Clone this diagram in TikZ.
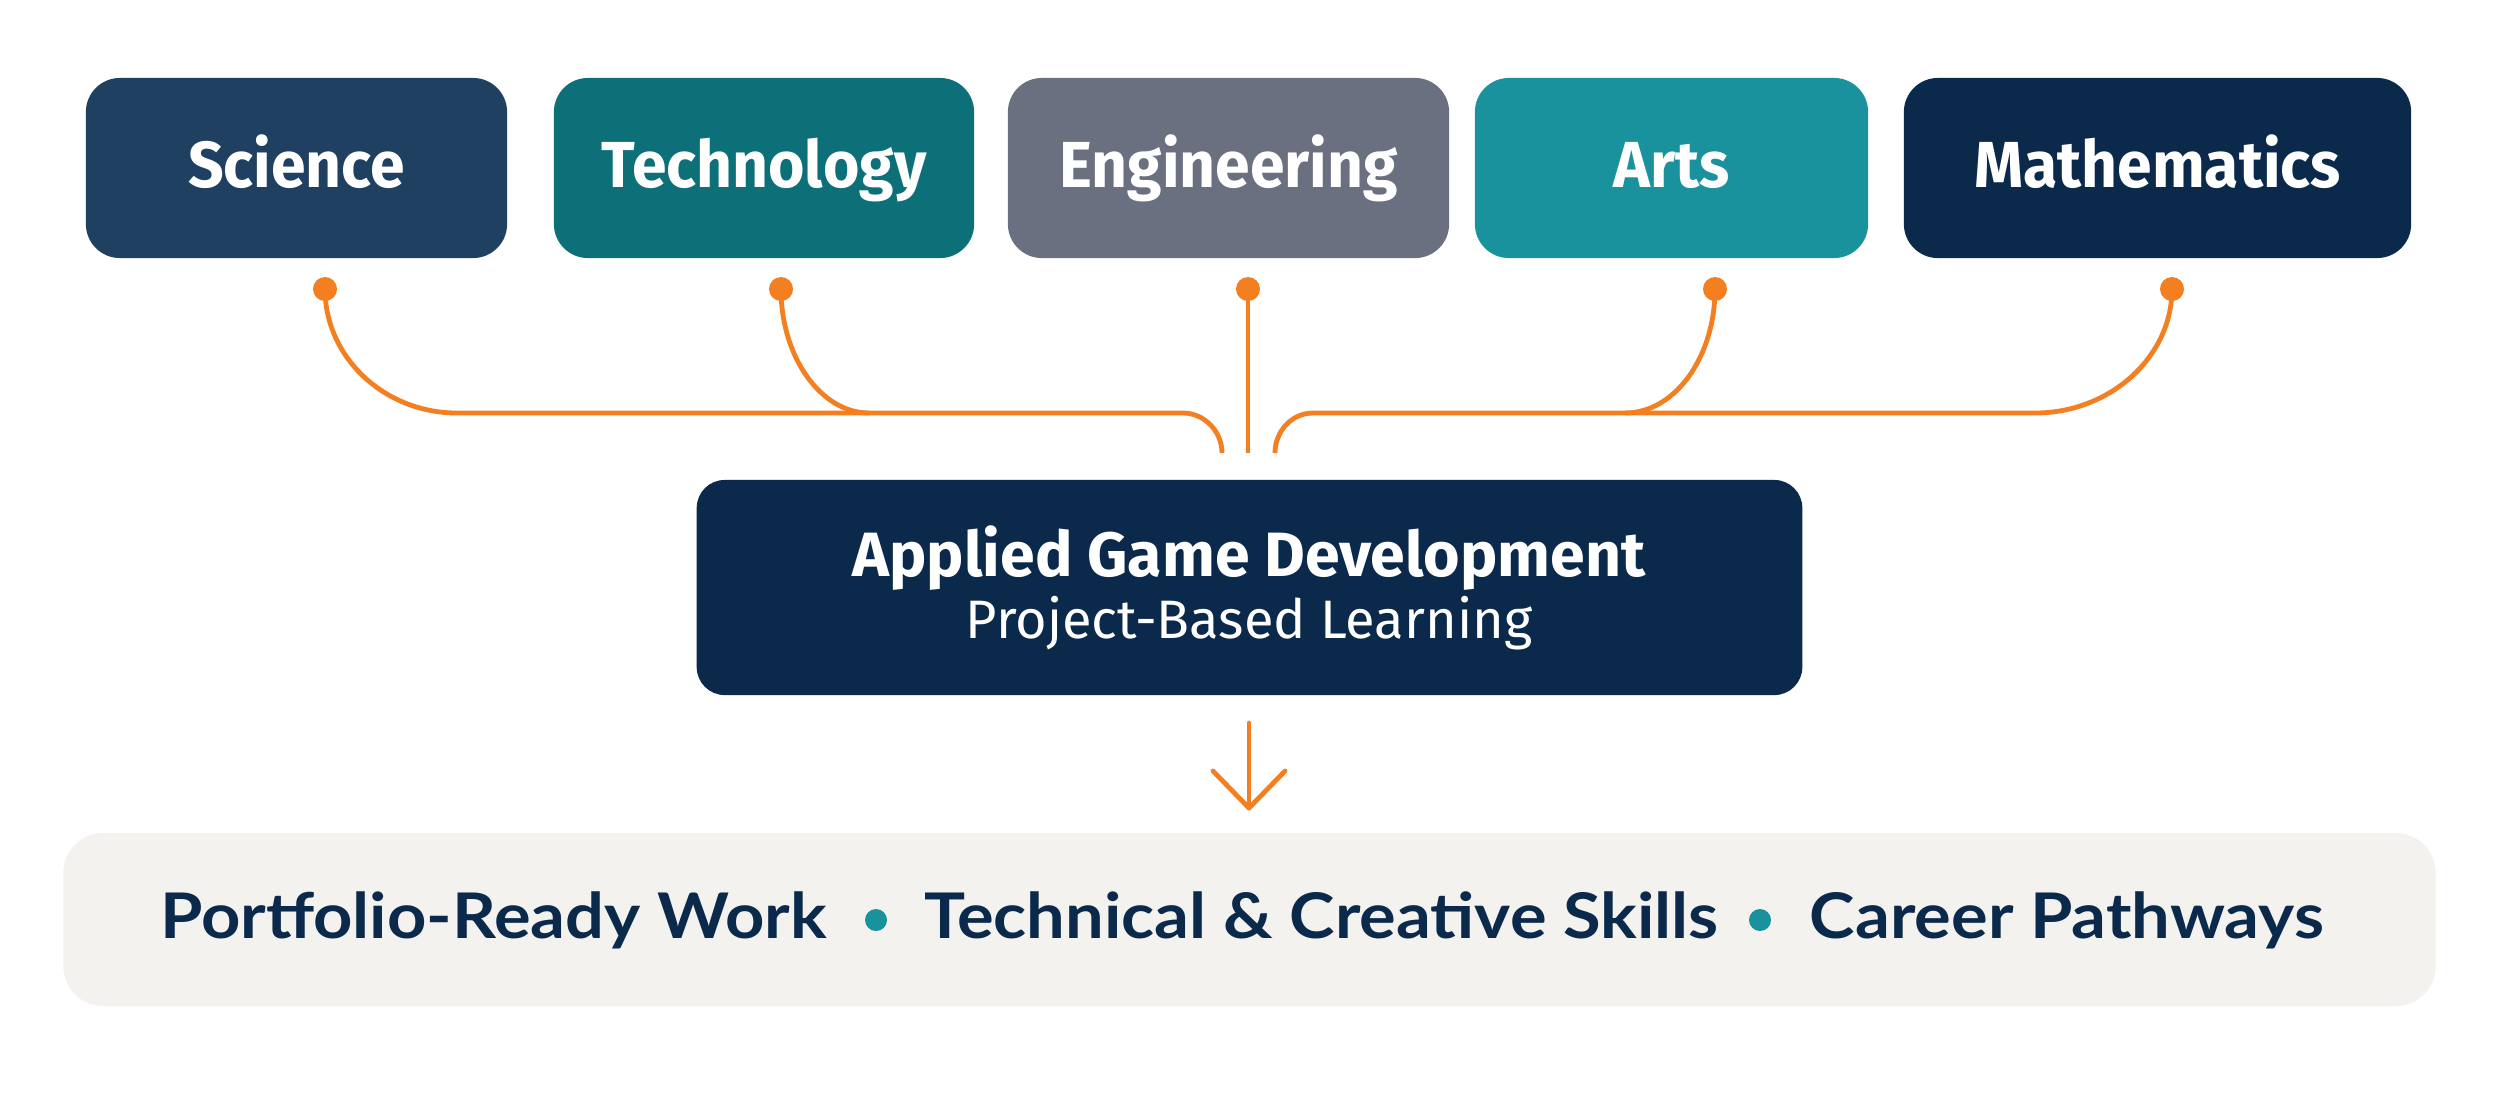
\documentclass[tikz,border=0pt]{standalone}
\usepackage{fontspec}
\setmainfont{Fira Sans}
\newfontfamily\botfont{Lato}
\definecolor{sciC}{HTML}{1F4060}
\definecolor{techC}{HTML}{0D7079}
\definecolor{engC}{HTML}{6B7080}
\definecolor{artsC}{HTML}{1A929D}
\definecolor{navyC}{HTML}{0B2A4B}
\definecolor{orangeC}{HTML}{F47F20}
\definecolor{paleC}{HTML}{F3F2EF}
\newcommand{\topl}[1]{\scalebox{0.96}[1]{#1}}
\newcommand{\botl}[1]{\scalebox{1.09}[1]{#1}}
\begin{document}
\begin{tikzpicture}[x=0.01cm,y=-0.01cm,
  topbox/.style={rectangle, rounded corners=0.34cm, minimum height=1.8cm, inner sep=0pt,
     text=white, font=\bfseries\fontsize{18.5}{20}\selectfont, text height=12.8pt, text depth=2pt},
  pin/.style={circle, fill=orangeC, inner sep=0pt, minimum size=0.24cm},
  conn/.style={draw=orangeC, line width=0.048cm},
  bdot/.style={circle, fill=artsC, inner sep=0pt, minimum size=0.22cm},
  bottxt/.style={anchor=base, text=navyC, font=\botfont\bfseries\fontsize{17.9}{20}\selectfont, inner sep=0pt}]
\useasboundingbox (0,0) rectangle (2500,1111);
\fill[white] (0,0) rectangle (2500,1111);

% top boxes
\node[topbox, fill=sciC,  minimum width=4.21cm] (sci)  at (296.5,168) {\topl{Science}};
\node[topbox, fill=techC, minimum width=4.20cm] (tech) at (764,168) {\topl{Technology}};
\node[topbox, fill=engC,  minimum width=4.41cm] (eng)  at (1228.5,168) {\topl{Engineering}};
\node[topbox, fill=artsC, minimum width=3.93cm] (arts) at (1671.5,168) {\topl{Arts}};
\node[topbox, fill=navyC, minimum width=5.07cm] (math) at (2157.5,168) {\topl{Mathematics}};

% pins
\node[pin] (sciD)  at (325,289) {};
\node[pin] (techD) at (781,289) {};
\node[pin] (engD)  at (1248,289) {};
\node[pin] (artsD) at (1715,289) {};
\node[pin] (mathD) at (2172,289) {};

% junction coordinates
\coordinate (LA) at (457,413);
\coordinate (LB) at (1183,413);
\coordinate (LE) at (1222,453);
\coordinate (TJ) at (869,413);
\coordinate (EE) at (1248,453);
\coordinate (RE) at (1275,453);
\coordinate (RA) at (1313,413);
\coordinate (RB) at (2035,413);
\coordinate (AJ) at (1625,413);

% connectors
\draw[conn] (sciD.center) .. controls (325,357) and (384,413) .. (LA) -- (LB)
   .. controls (1204,413) and (1222,431) .. (LE);
\draw[conn] (techD.center) .. controls (781,357) and (821,413) .. (TJ);
\draw[conn] (engD.center) -- (EE);
\draw[conn] (RE) .. controls (1275,431) and (1292,413) .. (RA) -- (RB)
   .. controls (2110,413) and (2172,357) .. (mathD.center);
\draw[conn] (artsD.center) .. controls (1715,357) and (1675,413) .. (AJ);

% main box
\node[rectangle, rounded corners=0.28cm, fill=navyC, minimum width=11.05cm, minimum height=2.15cm, inner sep=0pt] (main) at (1249.5,587.5) {};
\node[anchor=base, text=white, inner sep=0pt, font=\bfseries\fontsize{17.8}{20}\selectfont] (mainT) at (1249,576) {Applied Game Development};
\node[anchor=base, text=white, inner sep=0pt, font=\fontsize{15.4}{17}\selectfont] (mainS) at (1249,638) {Project-Based Learning};

% arrow
\coordinate (AS) at (1249,723);
\coordinate (AT) at (1249,808);
\coordinate (AL) at (1213,771);
\coordinate (AR) at (1285,771);
\draw[conn, line cap=round, line join=round] (AS) -- (AT);
\draw[conn, line cap=round, line join=round] (AL) -- (AT) -- (AR);

% bottom band
\node[rectangle, rounded corners=0.4cm, fill=paleC, minimum width=23.71cm, minimum height=1.73cm, inner sep=0pt] (band) at (1249.5,919.5) {};
\node[bottxt] (pf) at (493.5,938) {\botl{Portfolio-Ready Work}};
\node[bdot] (d1) at (876,920) {};
\node[bottxt] (tc) at (1321.5,938) {\botl{Technical \& Creative Skills}};
\node[bdot] (d2) at (1760,920) {};
\node[bottxt] (cp) at (2067,938) {\botl{Career Pathways}};
\end{tikzpicture}
\end{document}
